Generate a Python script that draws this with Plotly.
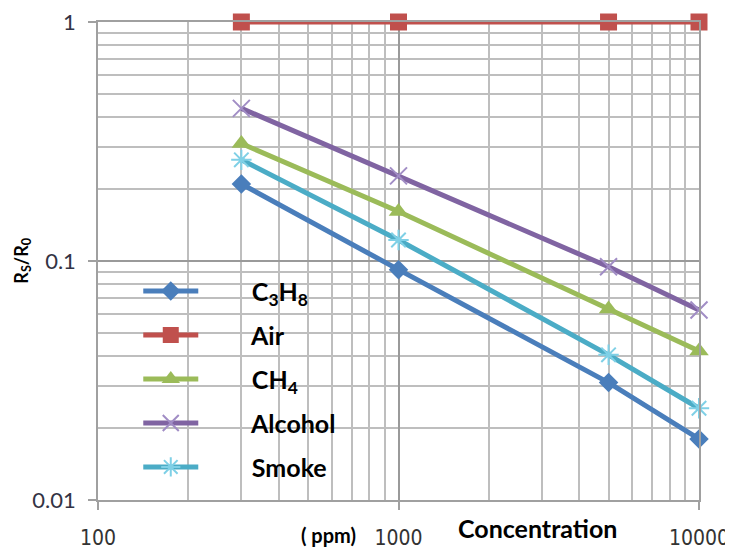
import plotly.graph_objects as go

# ---- data ----
concentration = [300, 1000, 5000, 10000]
series_names = ["C<sub>3</sub>H<sub>8</sub>", "Air", "CH<sub>4</sub>", "Alcohol", "Smoke"]
c3h8 = [0.21, 0.092, 0.031, 0.018]
air = [1.0, 1.0, 1.0, 1.0]
ch4 = [0.31, 0.161, 0.063, 0.042]
alcohol = [0.435, 0.227, 0.0946, 0.0624]
smoke = [0.265, 0.1225, 0.0405, 0.0242]

x_tickvals = [100, 1000, 10000]
x_ticktext = ["100", "1000", "10000"]
y_tickvals = [0.01, 0.1, 1]
y_ticktext = ["0.01", "0.1", "1"]

styles = [
    dict(color="#4A7EBB", symbol="diamond", mcolor="#4A7EBB", size=15, lw=0),
    dict(color="#C0504D", symbol="square", mcolor="#C0504D", size=17, lw=0),
    dict(color="#9BBB59", symbol="triangle-up", mcolor="#9BBB59", size=17, lw=0),
    dict(color="#8064A2", symbol="x-thin-open", mcolor="#A18DC5", size=17, lw=2),
    dict(color="#4BACC6", symbol="asterisk-open", mcolor="#7FD0E6", size=17, lw=2),
]
values = [c3h8, air, ch4, alcohol, smoke]

pad = "&nbsp;" * 8
fig = go.Figure()
for name, vals, st in zip(series_names, values, styles):
    fig.add_trace(go.Scatter(
        x=concentration, y=vals, name=pad + name, mode="lines+markers",
        legendgroup=name, cliponaxis=False,
        line=dict(color=st["color"], width=5),
        marker=dict(symbol=st["symbol"], size=st["size"], color=st["mcolor"],
                    line=dict(color=st["mcolor"], width=st["lw"])),
    ))

axis_common = dict(
    showline=True, linecolor="#A0A0A0", linewidth=1.5, mirror=True,
    showgrid=True, gridcolor="#9A9A9A", gridwidth=1.5,
    ticks="outside", ticklen=8, tickcolor="#A0A0A0", tickwidth=1.5,
    zeroline=False, automargin=False, ticklabeloverflow="allow",
)

fig.update_xaxes(
    type="log", range=[2, 4], tickmode="array",
    tickvals=x_tickvals, ticktext=x_ticktext,
    tickfont=dict(family="DejaVu Sans Condensed", size=21, color="#333333"),
    ticklabelstandoff=10,
    minor=dict(dtick="D1", showgrid=True,
               gridcolor="#BEBEBE", gridwidth=1.5, ticks=""),
    **axis_common,
)
fig.update_yaxes(
    type="log", range=[-2, 0], tickmode="array",
    tickvals=y_tickvals, ticktext=y_ticktext,
    tickfont=dict(family="Lato", size=22, color="#333344"),
    ticklabelstandoff=8,
    minor=dict(dtick="D1", showgrid=True,
               gridcolor="#BEBEBE", gridwidth=1.5, ticks=""),
    **axis_common,
)

# the page body adds an 8px offset, so the figure is sized to fit the window
fig.update_layout(
    width=725, height=541,
    margin=dict(l=90, r=34, t=14, b=49),
    plot_bgcolor="white", paper_bgcolor="white",
    showlegend=True,
    legend=dict(
        x=0.067, y=0.485, xanchor="left", yanchor="top",
        bgcolor="rgba(0,0,0,0)", itemwidth=55, tracegroupgap=8.5,
        font=dict(family="Lato", size=25, color="black", weight="bold"),
    ),
    annotations=[
        dict(text="R<sub>S</sub>/R<sub>0</sub>", xref="paper", yref="paper",
             x=-0.127, y=0.50, xanchor="center", yanchor="middle",
             textangle=-90, showarrow=False,
             font=dict(family="Lato", size=18, color="black", weight="bold")),
        dict(text="Concentration", xref="paper", yref="paper",
             x=0.732, y=-0.058, xanchor="center", yanchor="middle",
             showarrow=False,
             font=dict(family="Lato", size=25, color="black", weight="bold")),
        dict(text="( ppm)", xref="paper", yref="paper",
             x=0.383, y=-0.074, xanchor="center", yanchor="middle",
             showarrow=False,
             font=dict(family="Lato", size=20, color="black", weight="bold")),
    ],
)

fig.write_html("out.html")
